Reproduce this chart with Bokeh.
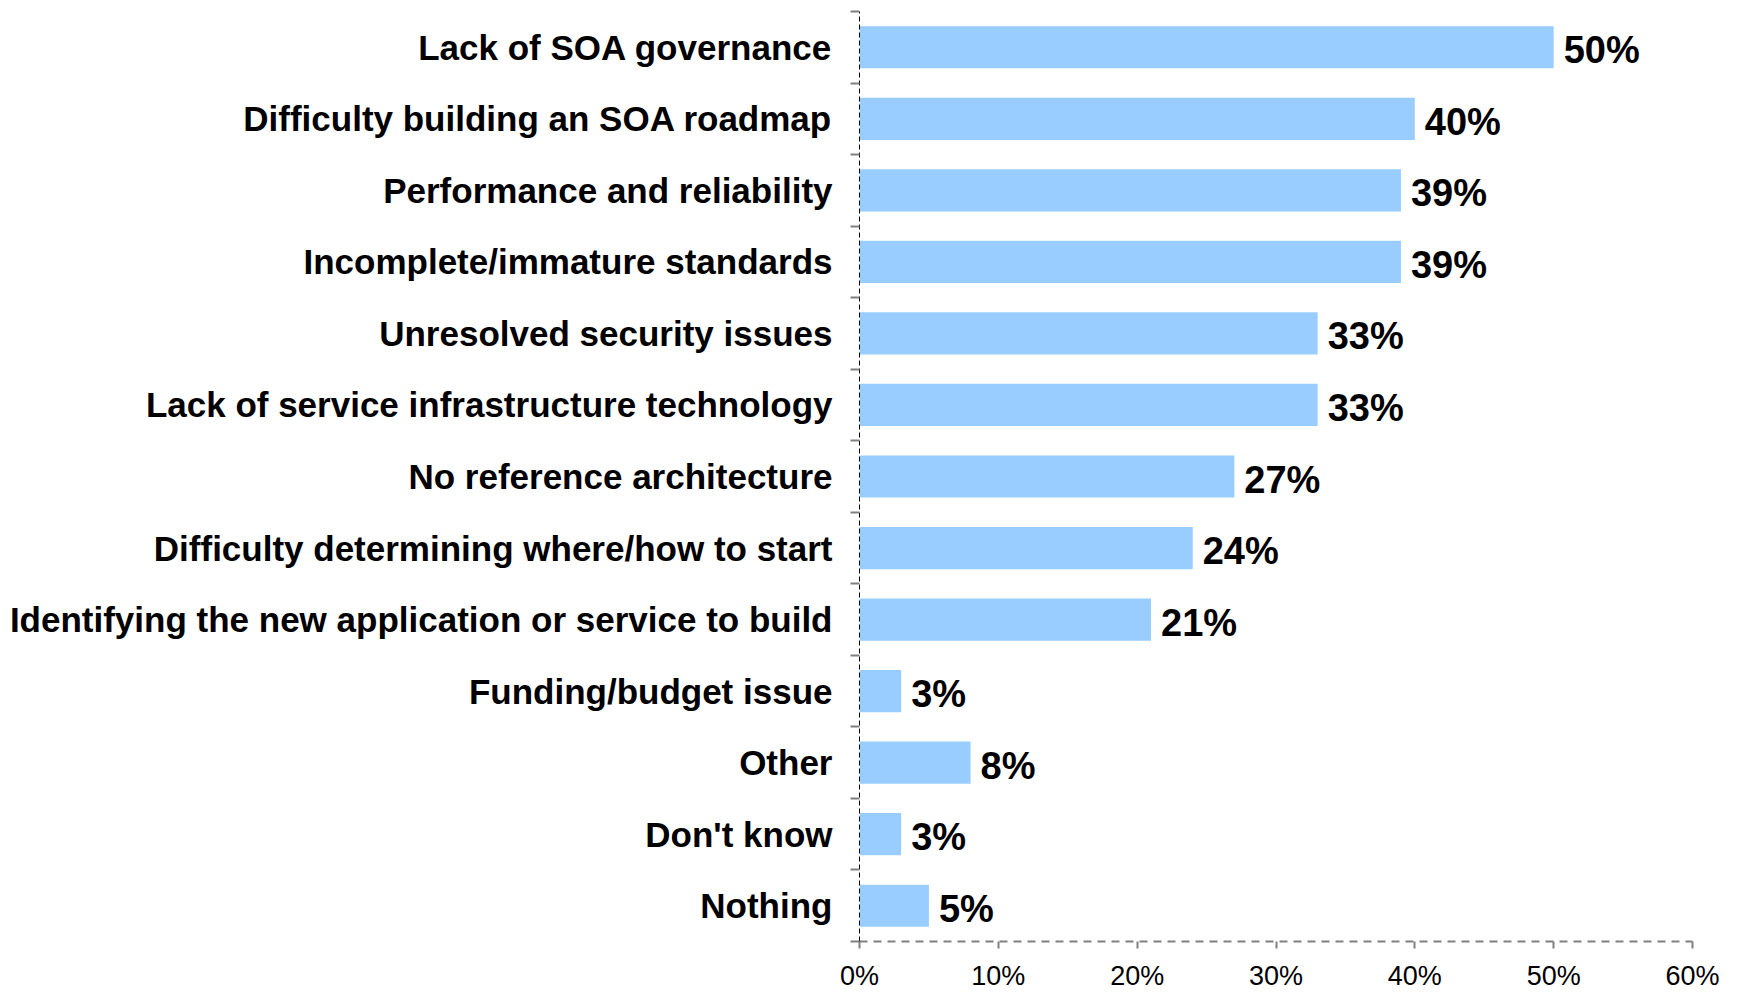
from bokeh.plotting import figure
from bokeh.models import ColumnDataSource, Range1d, FixedTicker, NumeralTickFormatter
from bokeh.core.properties import value
from bokeh.embed import file_html
from bokeh.resources import INLINE

categories = [
    "Lack of SOA governance",
    "Difficulty building an SOA roadmap",
    "Performance and reliability",
    "Incomplete/immature standards",
    "Unresolved security issues",
    "Lack of service infrastructure technology",
    "No reference architecture",
    "Difficulty determining where/how to start",
    "Identifying the new application or service to build",
    "Funding/budget issue",
    "Other",
    "Don't know",
    "Nothing",
]
percent_values = [50, 40, 39, 39, 33, 33, 27, 24, 21, 3, 8, 3, 5]
x_ticks = [0, 0.1, 0.2, 0.3, 0.4, 0.5, 0.6]

n = len(categories)
ypos = [n - i - 0.5 for i in range(n)]
src = ColumnDataSource(dict(
    y=ypos,
    x=[v / 100 for v in percent_values],
    label=[f"{v}%" for v in percent_values],
))

FONT = "Liberation Sans"

p = figure(width=1738, height=993, output_backend="svg", toolbar_location=None,
           x_range=Range1d(0, 0.6), y_range=Range1d(0, n),
           min_border_left=859, min_border_right=46, min_border_top=11, min_border_bottom=20)
p.outline_line_color = None
p.xgrid.grid_line_color = None
p.ygrid.grid_line_color = None
p.background_fill_color = "white"

p.hbar(y="y", left=0, right="x", height=0.59, source=src,
       fill_color="#99CCFF", line_color=None)
p.text(x="x", y="y", text="label", source=src, x_offset=10, y_offset=3,
       text_baseline="middle", text_align="left", text_font=value(FONT),
       text_font_style="bold", text_font_size="38px", text_color="black")

# Y axis: labels at category centres, minor ticks at boundaries
yax = p.yaxis[0]
yax.ticker = FixedTicker(ticks=ypos, minor_ticks=list(range(0, n + 1)))
yax.major_label_overrides = {y: c for y, c in zip(ypos, categories)}
yax.major_tick_line_color = None
yax.major_tick_out = 0
yax.major_tick_in = 0
yax.minor_tick_line_color = "#808080"
yax.minor_tick_line_width = 2
yax.minor_tick_out = 9
yax.minor_tick_in = 0
yax.major_label_standoff = 18
yax.major_label_text_font = FONT
yax.major_label_text_font_style = "bold"
yax.major_label_text_font_size = "35px"
yax.major_label_text_color = "black"
yax.axis_line_color = "black"
yax.axis_line_dash = "5 3"
yax.axis_line_width = 1

xax = p.xaxis[0]
xax.ticker = FixedTicker(ticks=x_ticks, minor_ticks=[])
xax.formatter = NumeralTickFormatter(format="0%")
xax.axis_line_color = "#808080"
xax.axis_line_dash = "8 6"
xax.axis_line_width = 2
xax.major_tick_line_color = "#808080"
xax.major_tick_line_width = 2
xax.major_tick_out = 7
xax.major_tick_in = 0
xax.minor_tick_line_color = None
xax.major_label_standoff = 12
xax.major_label_text_font = FONT
xax.major_label_text_font_style = "normal"
xax.major_label_text_font_size = "27px"
xax.major_label_text_color = "black"

open("out.html", "w").write(file_html(p, INLINE))
